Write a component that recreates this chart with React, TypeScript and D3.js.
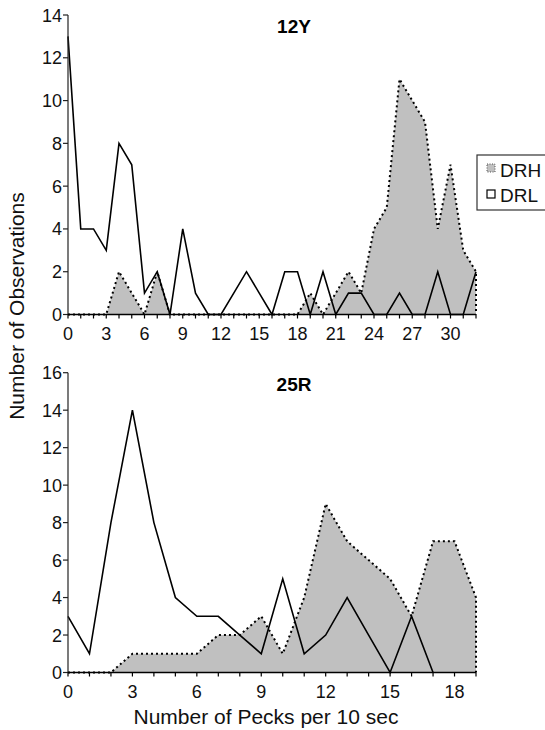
import * as d3 from "d3"

// Number of observations per pecks-per-10-sec bin (index = number of pecks)
const drhTop = [0, 0, 0, 0, 2, 1, 0, 2, 0, 0, 0, 0, 0, 0, 0, 0, 0, 0, 0, 1, 0, 1, 2, 1, 4, 5, 11, 10, 9, 4, 7, 3, 2]
const drlTop = [13, 4, 4, 3, 8, 7, 1, 2, 0, 4, 1, 0, 0, 1, 2, 1, 0, 2, 2, 0, 2, 0, 1, 1, 0, 0, 1, 0, 0, 2, 0, 0, 2]
const drhBottom = [0, 0, 0, 1, 1, 1, 1, 2, 2, 3, 1, 4, 9, 7, 6, 5, 3, 7, 7, 4]
const drlBottom = [3, 1, 8, 14, 8, 4, 3, 3, 2, 1, 5, 1, 2, 4, 2, 0, 3, 0]

const topXTicks = [0, 3, 6, 9, 12, 15, 18, 21, 24, 27, 30]
const bottomXTicks = [0, 3, 6, 9, 12, 15, 18]
const topYTicks = [0, 2, 4, 6, 8, 10, 12, 14]
const bottomYTicks = [0, 2, 4, 6, 8, 10, 12, 14, 16]

const FONT = "'Liberation Sans', Arial, Helvetica, sans-serif"
const FILL = "#c0c0c0"
const LEFT = 68
const RIGHT = 476

type PanelProps = {
  title: string
  drh: number[]
  drl: number[]
  xMax: number
  yMax: number
  xTicks: number[]
  yTicks: number[]
  y0: number
  yTop: number
}

function Panel({ title, drh, drl, xMax, yMax, xTicks, yTicks, y0, yTop }: PanelProps) {
  const x = d3.scaleLinear().domain([0, xMax]).range([LEFT, RIGHT])
  const y = d3.scaleLinear().domain([0, yMax]).range([y0, yTop])

  const area = d3.area<number>()
    .x((_, i) => x(i))
    .y0(y(0))
    .y1((d) => y(d))
  const line = d3.line<number>()
    .x((_, i) => x(i))
    .y((d) => y(d))

  // closed outline of the area (Excel draws the border all round)
  const outline = [[x(0), y(0)], ...drh.map((d, i) => [x(i), y(d)]), [x(drh.length - 1), y(0)]] as [number, number][]

  return (
    <g>
      <path d={area(drh) || ""} fill={FILL} />
      <path
        d={d3.line()(outline) || ""}
        fill="none"
        stroke="#000"
        strokeWidth={2}
        strokeDasharray="2,3"
      />
      <path d={line(drl) || ""} fill="none" stroke="#000" strokeWidth={1.6} strokeLinejoin="miter" />

      {/* y axis */}
      <line x1={LEFT} x2={LEFT} y1={y(0)} y2={y(yMax)} stroke="#222" strokeWidth={1.2} />
      {yTicks.map((t) => (
        <g key={"y" + t}>
          <line x1={LEFT - 5} x2={LEFT} y1={y(t)} y2={y(t)} stroke="#222" strokeWidth={1.2} />
          <text x={LEFT - 6} y={y(t) + 6.5} textAnchor="end" fontSize={18} fill="#111">{t}</text>
        </g>
      ))}

      {/* x axis */}
      <line x1={LEFT} x2={RIGHT} y1={y(0)} y2={y(0)} stroke="#000" strokeWidth={1.4} />
      {d3.range(xMax + 1).map((i) => (
        <line key={"xt" + i} x1={x(i)} x2={x(i)} y1={y(0)} y2={y(0) + 4} stroke="#000" strokeWidth={1.2} />
      ))}
      {xTicks.map((t) => (
        <text key={"x" + t} x={x(t)} y={y(0) + 25} textAnchor="middle" fontSize={18} fill="#111">{t}</text>
      ))}

      <text x={294} y={yTop + 18} textAnchor="middle" fontSize={19} fontWeight="bold" fill="#000">{title}</text>
    </g>
  )
}

export default function App() {
  return (
    <svg
      width={545}
      height={730}
      style={{ position: "absolute", left: 0, top: 0, background: "#fff" }}
      fontFamily={FONT}
    >
      <Panel title="12Y" drh={drhTop} drl={drlTop} xMax={32} yMax={14}
        xTicks={topXTicks} yTicks={topYTicks} y0={314.5} yTop={15} />
      <Panel title="25R" drh={drhBottom} drl={drlBottom} xMax={19} yMax={16}
        xTicks={bottomXTicks} yTicks={bottomYTicks} y0={672.5} yTop={372.7} />

      <text transform="translate(24,306) rotate(-90)" textAnchor="middle" fontSize={21} fill="#111">
        Number of Observations
      </text>
      <text x={266} y={724} textAnchor="middle" fontSize={21} fill="#111">
        Number of Pecks per 10 sec
      </text>

      {/* legend */}
      <rect x={477} y={155} width={80} height={55} fill="#fff" stroke="#333" strokeWidth={1.2} />
      <rect x={487} y={164} width={8} height={8} fill={FILL} stroke="#555" strokeWidth={1} strokeDasharray="1,1.5" />
      <text x={500} y={177} fontSize={19} fill="#111">DRH</text>
      <rect x={487} y={190} width={8} height={8} fill="#fff" stroke="#000" strokeWidth={1.2} />
      <text x={500} y={202} fontSize={19} fill="#111">DRL</text>
    </svg>
  )
}
